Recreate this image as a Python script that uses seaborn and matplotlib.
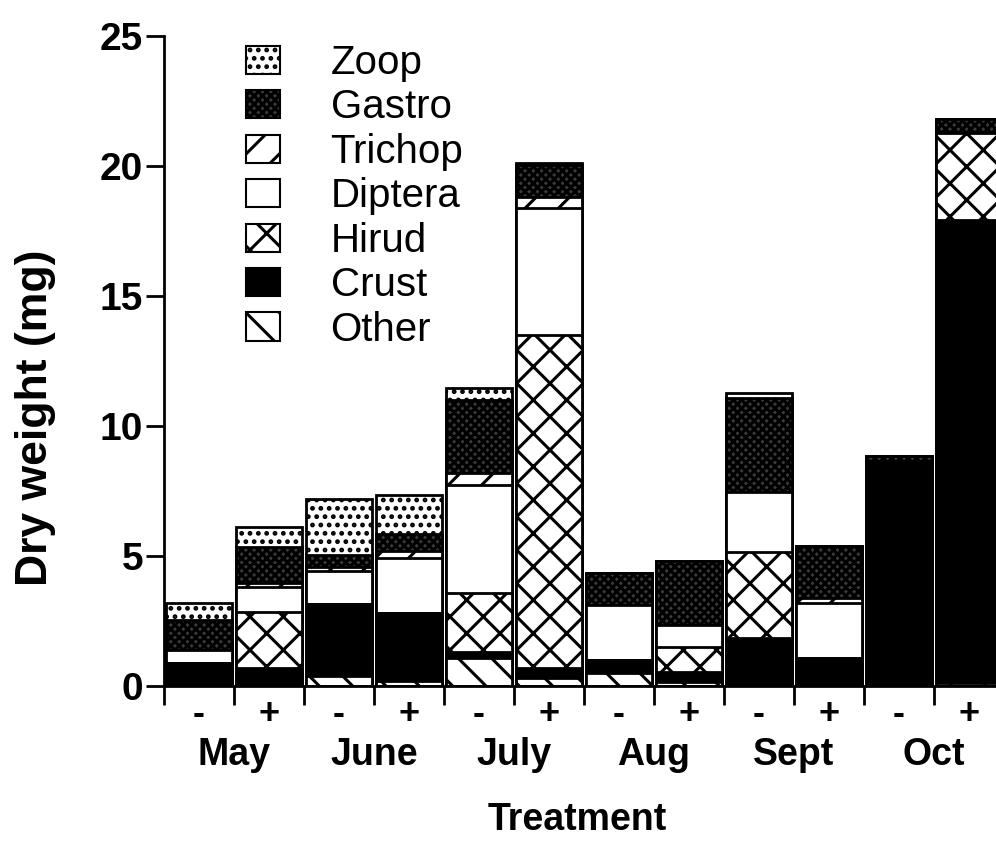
import numpy as np
import pandas as pd
import seaborn as sns
import matplotlib.pyplot as plt
from matplotlib.patches import Patch
from matplotlib.ticker import MultipleLocator

#%% data (mg dry weight per taxon, bottom -> top)
months = ['May', 'June', 'July', 'Aug', 'Sept', 'Oct']
treatments = ['-', '+'] * 6

other = [0, 0, 0.40, 0.20, 1.06, 0.30, 0.50, 0.17, 0, 0, 0, 0.12]
crust = [0.87, 0.70, 2.77, 2.62, 0.26, 0.40, 0.50, 0.38, 1.83, 1.06, 8.55, 17.8]
hirud = [0, 2.15, 0, 0, 2.24, 12.8, 0, 0.96, 3.34, 0, 0, 3.35]
diptera = [0.51, 0.95, 1.27, 2.10, 4.17, 4.90, 2.10, 0.84, 2.30, 2.12, 0.08, 0]
trichop = [0, 0.15, 0.12, 0.27, 0.45, 0.40, 0, 0, 0, 0.20, 0, 0]
gastro = [1.16, 1.40, 0.46, 0.65, 2.82, 1.25, 1.23, 2.47, 3.60, 2.00, 0.22, 0.55]
zoop = [0.66, 0.75, 2.18, 1.50, 0.45, 0.05, 0, 0, 0.20, 0, 0, 0]

taxa = ['Other', 'Crust', 'Hirud', 'Diptera', 'Trichop', 'Gastro', 'Zoop']
values = [other, crust, hirud, diptera, trichop, gastro, zoop]
# fill / hatch for each taxon
styles = {
    'Zoop': ('white', '..'),
    'Gastro': ('#3c3c3c', 'xxxx'),
    'Trichop': ('white', '/'),
    'Diptera': ('white', ''),
    'Hirud': ('white', 'x'),
    'Crust': ('black', ''),
    'Other': ('white', '\\'),
}

#%% build cumulative table
bars = [f'{m}{t}' for m in months for t in ['-', '+']]
df = pd.DataFrame({'bar': bars, 'treatment': treatments})
running = np.zeros(len(bars))
for name, vals in zip(taxa, values):
    running = running + np.array(vals)
    df[name] = running.copy()

#%% plot
sns.set_style('ticks')
plt.rcParams['font.family'] = ['Liberation Sans', 'DejaVu Sans']
plt.rcParams['hatch.linewidth'] = 2.2
plt.rcParams['hatch.color'] = 'black'
for key in ['text.color', 'axes.labelcolor', 'xtick.color', 'ytick.color', 'axes.edgecolor']:
    plt.rcParams[key] = 'black'

fig = plt.figure(figsize=(9.96, 8.41), dpi=100)
ax = fig.add_axes([164 / 996, 155 / 841, 840 / 996, 650 / 841])

# draw from the top layer down so each lower layer covers the one above
for name in taxa[::-1]:
    fc, hatch = styles[name]
    sns.barplot(data=df, x='bar', y=name, color=fc, saturation=1, hatch=hatch,
                edgecolor='black', linewidth=2, width=0.93, ax=ax)

ax.set_xlim(-0.5, 11.5)
ax.set_ylim(0, 25)
ax.yaxis.set_major_locator(MultipleLocator(5))
ax.tick_params(axis='y', length=13, width=2, labelsize=28, pad=2)
for lab in ax.get_yticklabels():
    lab.set_fontweight('bold')
ax.set_ylabel('')

ax.set_xticks(range(12))
ax.set_xticklabels(treatments, fontsize=26, fontweight='bold')
ax.tick_params(axis='x', which='major', length=0, pad=8)
ax.set_xticks(np.arange(-0.5, 12, 1), minor=True)
ax.tick_params(axis='x', which='minor', length=14, width=2)
ax.set_xlabel('')

for i, m in enumerate(months):
    ax.text(2 * i + 0.5, -0.106, m, transform=ax.get_xaxis_transform(),
            ha='center', va='center', fontsize=27, fontweight='bold')

fig.text(577 / 996, 1 - 820 / 841, 'Treatment', ha='center', va='center',
         fontsize=27, fontweight='bold')
fig.text(36 / 996, 1 - 418 / 841, 'Dry weight (mg)', ha='center', va='center',
         rotation=90, fontsize=32, fontweight='bold')

sns.despine(ax=ax)
for sp in ['left', 'bottom']:
    ax.spines[sp].set_linewidth(2)

handles = [Patch(facecolor=styles[n][0], hatch=styles[n][1], edgecolor='black',
                 linewidth=1.5, label=n) for n in taxa[::-1]]
ax.legend(handles=handles, loc='upper left', bbox_to_anchor=(246 / 996, 1 - 44 / 841),
          bbox_transform=fig.transFigure, frameon=False, fontsize=29,
          handlelength=0.85, handleheight=0.7, handletextpad=1.25,
          labelspacing=0.16, borderaxespad=0, borderpad=0)

plt.savefig('out.png', dpi=100)
